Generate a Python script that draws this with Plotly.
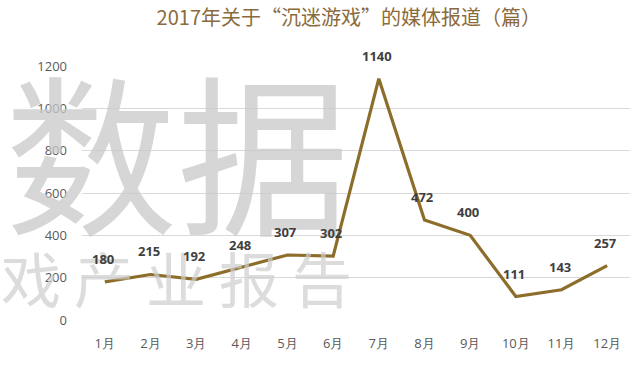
import plotly.graph_objects as go

months = ["1月", "2月", "3月", "4月", "5月", "6月", "7月", "8月", "9月", "10月", "11月", "12月"]
reports = [180, 215, 192, 248, 307, 302, 1140, 472, 400, 111, 143, 257]
y_ticks = [0, 200, 400, 600, 800, 1000, 1200]
title_text = "2017年关于“沉迷游戏”的媒体报道（篇）"
watermark_big = "数据"
watermark_small = ["戏", "产", "业", "报", "告"]

CJK = "Noto Sans CJK SC"
line_color = "#8C6D2A"

fig = go.Figure()
fig.add_trace(go.Scatter(
    x=months, y=reports, mode="lines",
    line=dict(color=line_color, width=3.2),
    hoverinfo="skip", showlegend=False,
))

annotations = []
# watermark
annotations.append(dict(
    text=watermark_big, xref="paper", yref="paper", x=-0.145, y=0.68,
    xanchor="left", yanchor="middle", showarrow=False,
    font=dict(family=CJK, size=172, color="rgba(200,200,200,0.75)"),
))
for i, ch in enumerate(watermark_small):
    annotations.append(dict(
        text=ch, xref="paper", yref="paper", x=(-0.152 + i * 0.133), y=0.17,
        xanchor="left", yanchor="middle", showarrow=False,
        font=dict(family=CJK, size=60, color="rgba(205,205,205,0.7)"),
    ))
# data labels
for m, v in zip(months, reports):
    annotations.append(dict(
        x=m, y=v, text=str(v), showarrow=False, yshift=23, xshift=-2,
        font=dict(family="Open Sans", size=13, color="#3F3F3F", weight="bold"),
    ))

fig.update_layout(
    width=640, height=370,
    margin=dict(l=82, r=10, t=66, b=50, autoexpand=False),
    paper_bgcolor="white", plot_bgcolor="white",
    title=dict(text=title_text, x=0.545, xanchor="center", xref="container",
               y=0.951, yref="container", yanchor="middle",
               font=dict(family=CJK, size=20, color="#8B6A3C")),
    annotations=annotations,
    xaxis=dict(
        type="category", showgrid=False, zeroline=False, showline=False,
        ticks="", tickfont=dict(family="Open Sans", size=13, color="#595959"),
        range=[-0.5, 11.5], automargin=False, ticklabelstandoff=14,
    ),
    yaxis=dict(
        range=[0, 1200], tickvals=y_ticks, showgrid=True, gridcolor="#D9D9D9",
        gridwidth=1, zeroline=False, showline=False, ticks="",
        tickfont=dict(family="Open Sans", size=13, color="#595959"),
        ticklabelstandoff=14, automargin=False,
    ),
)

fig.write_html("out.html", config={"displayModeBar": False},
               post_script="document.body.style.margin='0';")
